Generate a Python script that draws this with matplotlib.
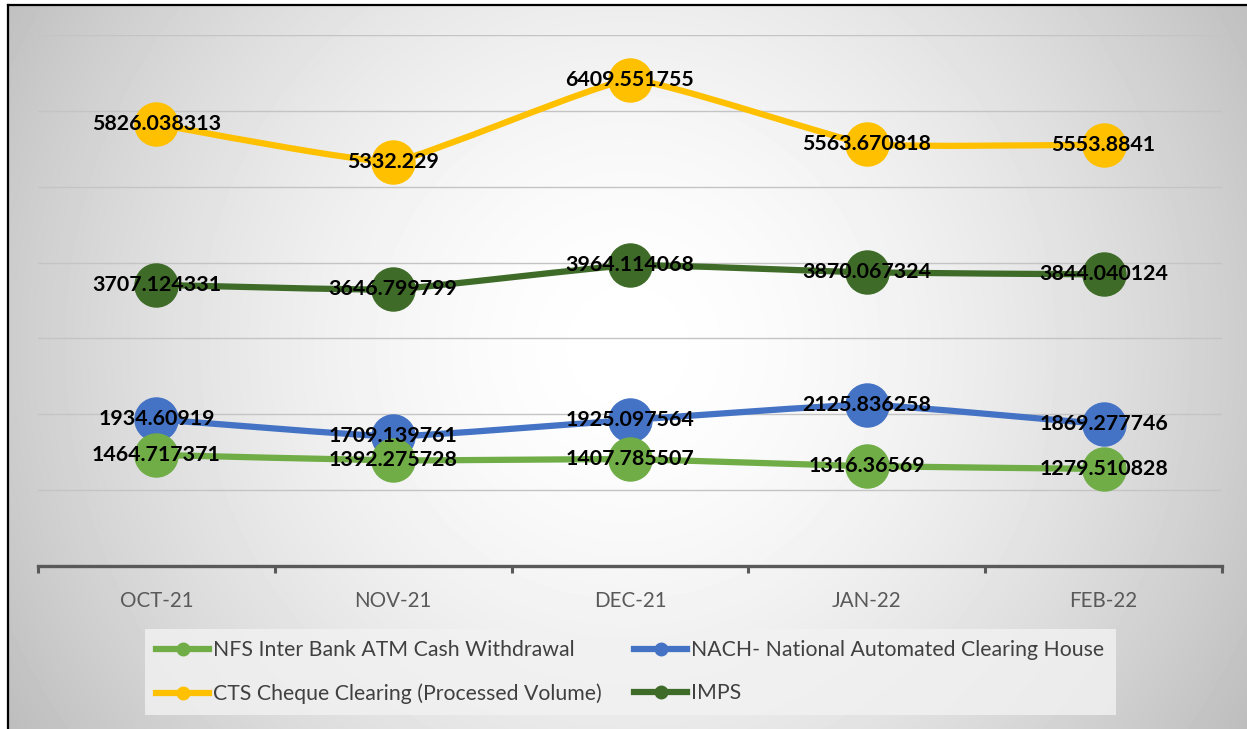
import numpy as np
import matplotlib.pyplot as plt
from matplotlib.path import Path
from matplotlib.patches import PathPatch
from matplotlib.lines import Line2D

# Data
mesi = ['OCT-21', 'NOV-21', 'DEC-21', 'JAN-22', 'FEB-22']
nfs = [1464.717371, 1392.275728, 1407.785507, 1316.36569, 1279.510828]
nach = [1934.60919, 1709.139761, 1925.097564, 2125.836258, 1869.277746]
cts = [5826.038313, 5332.229, 6409.551755, 5563.670818, 5553.8841]
imps = [3707.124331, 3646.799799, 3964.114068, 3870.067324, 3844.040124]

nomi = ['NFS Inter Bank ATM Cash Withdrawal',
        'NACH- National Automated Clearing House',
        'CTS Cheque Clearing (Processed Volume)',
        'IMPS']

colori = {'nfs': '#70AD47', 'nach': '#4472C4', 'cts': '#FFC000', 'imps': '#3E6B28'}

plt.rcParams['font.family'] = ['Lato', 'DejaVu Sans']

W, H = 1247, 729
fig = plt.figure(figsize=(W / 100, H / 100), dpi=100)

# Sfondo con gradiente radiale (bianco al centro, grigio ai bordi)
bg = fig.add_axes([8 / W, 0, 1 - 8 / W, 1 - 5 / H])
bx0, bx1, by0, by1 = 8, W, 5, H
xx, yy = np.meshgrid(np.arange(bx0, bx1), np.arange(by0, by1))
cx, cy = (bx0 + bx1) / 2, (by0 + by1) / 2 - 20
d = np.sqrt((xx - cx) ** 2 + (yy - cy) ** 2)
d = d / d.max()
v = 1 - 0.26 * d ** 1.7
bg.imshow(v, cmap='gray', vmin=0, vmax=1, aspect='auto', interpolation='bilinear')
bg.set_axis_off()

# Bordo nero (sinistra e sopra)
fig.add_artist(Line2D([8 / W, 8 / W], [0, 1 - 5 / H], color='black', lw=1.6,
                      transform=fig.transFigure))
fig.add_artist(Line2D([8 / W, 1], [1 - 5 / H, 1 - 5 / H], color='black', lw=1.6,
                      transform=fig.transFigure))

ax = fig.add_axes([38 / W, 1 - 566 / H, (1222 - 38) / W, (566 - 35) / H])
ax.patch.set_alpha(0)
x = np.arange(len(mesi))


def curva(xs, ys, t=0.35):
    """Linea leggermente smussata stile Excel"""
    pts = np.column_stack([xs, ys]).astype(float)
    verts = [pts[0]]
    codes = [Path.MOVETO]
    n = len(pts)
    for i in range(n - 1):
        p0 = pts[i - 1] if i > 0 else pts[i]
        p1 = pts[i]
        p2 = pts[i + 1]
        p3 = pts[i + 2] if i + 2 < n else pts[i + 1]
        c1 = p1 + t * (p2 - p0) / 6
        c2 = p2 - t * (p3 - p1) / 6
        verts += [c1, c2, p2]
        codes += [Path.CURVE4] * 3
    return Path(verts, codes)


serie = [('nach', nach, nomi[1]), ('nfs', nfs, nomi[0]),
         ('cts', cts, nomi[2]), ('imps', imps, nomi[3])]
for i, (k, vals, nome) in enumerate(serie):
    ax.add_patch(PathPatch(curva(x, vals), facecolor='none', edgecolor=colori[k],
                           lw=4.5, zorder=3 + i, capstyle='round'))
    ax.plot(x, vals, 'o', color=colori[k], markersize=31, zorder=3 + i, lw=0)

for k, vals, nome in serie:
    for xi, val in zip(x, vals):
        ax.text(xi, val, f'{val:.10g}', ha='center', va='center', fontsize=15.4,
                fontweight='bold', color='black', zorder=10)

ax.set_xlim(-0.5, 4.5)
ax.set_ylim(0, 7000)
ax.set_yticks(np.arange(1000, 7001, 1000))
ax.yaxis.grid(True, color='#c4c4c4', lw=1)
ax.tick_params(axis='y', left=False, labelleft=False)
ax.set_xticks(x)
ax.set_xticklabels(mesi, fontsize=14.8, color='#595959')
ax.set_xticks(np.arange(-0.5, 5, 1), minor=True)
ax.tick_params(axis='x', which='major', length=0, pad=18)
ax.tick_params(axis='x', which='minor', length=5, width=2.2, color='#595959',
               direction='out')
for s in ['top', 'right', 'left']:
    ax.spines[s].set_visible(False)
ax.spines['bottom'].set_color('#595959')
ax.spines['bottom'].set_linewidth(2.4)
ax.set_axisbelow(True)

# Legenda
maniglie = [Line2D([], [], color=colori[k], lw=4.5, marker='o', markersize=9)
            for k in ['nfs', 'cts', 'nach', 'imps']]
testi = [nomi[0], nomi[2], nomi[1], nomi[3]]
leg = fig.legend(maniglie, testi, ncol=2, loc='upper left',
                 bbox_to_anchor=(145 / W, 1 - 629 / H),
                 frameon=True, fontsize=15.3, handlelength=2.5,
                 handletextpad=0.2, columnspacing=1.5, labelspacing=1.1,
                 borderpad=0.52, fancybox=False, borderaxespad=0)
leg.get_frame().set_facecolor('#f2f2f2')
leg.get_frame().set_alpha(0.8)
leg.get_frame().set_linewidth(0)
for t in leg.get_texts():
    t.set_color('#404040')

fig.savefig('out.png', dpi=100)
